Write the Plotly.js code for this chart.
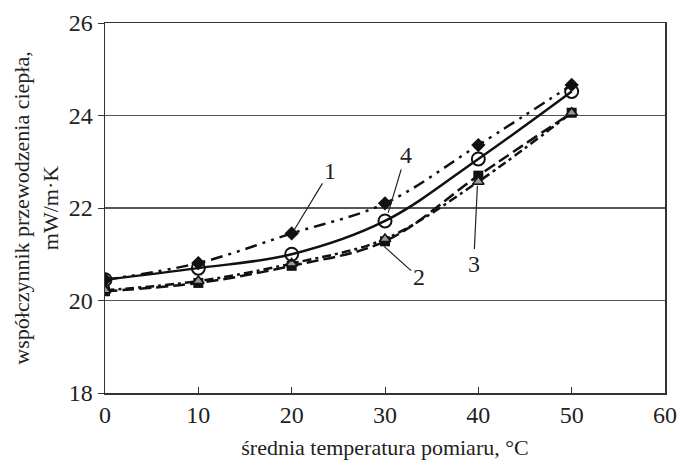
<!DOCTYPE html>
<html>
<head>
<meta charset="utf-8">
<script src="https://cdn.plot.ly/plotly-3.0.1.min.js"></script>
<style>html,body{margin:0;padding:0;background:#fff;}#chart{width:679px;height:461px;}</style>
</head>
<body>
<div id="chart"></div>
<script>
const temperature = [0, 10, 20, 30, 40, 50];
const series1 = [20.45, 20.81, 21.45, 22.10, 23.36, 24.66]; // diamonds
const series4 = [20.45, 20.70, 21.00, 21.72, 23.06, 24.52]; // circles
const series3 = [20.20, 20.38, 20.75, 21.28, 22.70, 24.06]; // squares
const series2 = [20.22, 20.42, 20.80, 21.33, 22.57, 24.06]; // triangles
const xTicks = [0, 10, 20, 30, 40, 50, 60];
const yTicks = [18, 20, 22, 24, 26];
const curveLabels = ["1", "2", "3", "4"];
const labelTargets = {"1": [20.25, 21.52], "2": [29.9, 21.17], "3": [39.9, 22.48], "4": [30.35, 21.90]};
const labelPositions = {"1": [24.1, 22.8], "2": [33.6, 20.5], "3": [39.5, 20.8], "4": [32.2, 23.15]};

const tickFont = {family: "Liberation Serif, Times New Roman, serif", size: 24, color: "#222"};
const titleFont = {family: "Liberation Serif, Times New Roman, serif", size: 22, color: "#222"};

const traces = [
  {x: temperature, y: series3, mode: "lines+markers", line: {shape: "spline", color: "#111", width: 2.5, dash: "12px,5px"},
   marker: {symbol: "square", size: 10, color: "#111"}},
  {x: temperature, y: series2, mode: "lines+markers", line: {shape: "spline", color: "#111", width: 2.5, dash: "9px,4px,3px,4px"},
   marker: {symbol: "triangle-up", size: 10, color: "#999", line: {color: "#111", width: 1.5}}},
  {x: temperature, y: series1, mode: "lines+markers", line: {shape: "spline", color: "#111", width: 2.5, dash: "12px,6px,3px,6px,3px,6px"},
   marker: {symbol: "diamond", size: 11, color: "#111"}},
  {x: temperature, y: series4, mode: "lines+markers", line: {shape: "spline", color: "#111", width: 2.5},
   marker: {symbol: "circle-open", size: 13, color: "#111", line: {width: 2}}}
];

const annotations = curveLabels.map(k => ({
  x: labelTargets[k][0], y: labelTargets[k][1], xref: "x", yref: "y",
  ax: labelPositions[k][0], ay: labelPositions[k][1], axref: "x", ayref: "y",
  text: k, showarrow: true, arrowhead: 0, arrowwidth: 1.2, arrowcolor: "#222",
  font: tickFont, standoff: 0, startstandoff: 0
}));

const layout = {
  width: 679, height: 461,
  margin: {l: 105, r: 14, t: 23, b: 68},
  paper_bgcolor: "#fff", plot_bgcolor: "#fff",
  showlegend: false,
  font: tickFont,
  xaxis: {range: [0, 60], tickvals: xTicks, ticks: "inside", ticklen: 6, tickcolor: "#333",
    showline: true, linecolor: "#333", linewidth: 1.5, mirror: true, showgrid: false, zeroline: false,
    tickfont: tickFont, title: {text: "średnia temperatura pomiaru, °C", font: titleFont, standoff: 12}},
  yaxis: {range: [18, 26], tickvals: yTicks, ticks: "outside", ticklen: 6, tickcolor: "#333",
    showline: true, linecolor: "#333", linewidth: 1.5, mirror: true, showgrid: true, gridcolor: "#555", gridwidth: 1.5,
    zeroline: false, tickfont: tickFont,
    title: {text: "współczynnik przewodzenia ciepła,<br>mW/m·K", font: titleFont, standoff: 4}},
  annotations: annotations
};

Plotly.newPlot("chart", traces, layout, {staticPlot: true, displayModeBar: false});
</script>
</body>
</html>
